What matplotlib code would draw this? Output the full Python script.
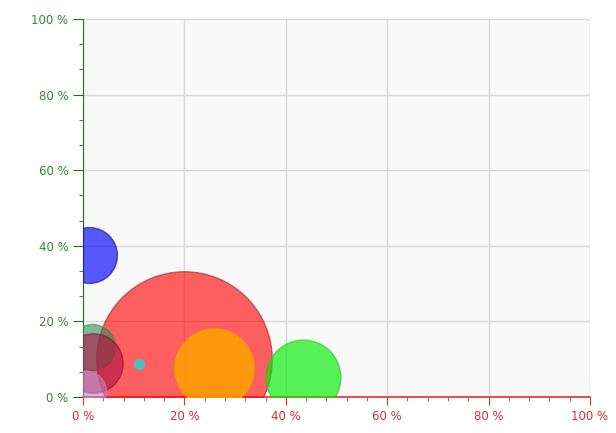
import matplotlib.pyplot as plt
from matplotlib.ticker import MultipleLocator, FuncFormatter

# bubble data (x %, y %, bubble value)
xs = [20.0, 25.8, 43.3, 1.2, 11.0, 1.8, 2.0, 0.5]
ys = [10.0, 7.8, 5.2, 37.6, 8.7, 13.2, 9.0, 1.5]
vals = [77.0, 15.6, 14.0, 7.8, 0.25, 5.3, 8.8, 4.0]
colors = ["#ff0000", "#ffa000", "#00ee00", "#0000ff", "#30d0d0",
          "#2e8b57", "#b01040", "#c080c0"]
edges = ["#b02020", "#ffa000", "#30c030", "#101090", "#30d0d0",
         "#2e8b57", "#801030", "#c080c0"]
alphas = [0.62, 0.85, 0.65, 0.65, 0.8, 0.6, 0.6, 0.6]

fig = plt.figure(figsize=(6.16, 4.33), dpi=100)
ax = fig.add_axes([0.1347, 0.0831, 0.8231, 0.8729])
ax.set_facecolor("#f9f9f9")

for x, y, v, c, e, a in zip(xs, ys, vals, colors, edges, alphas):
    # value ~ (radius px)^2 / 100
    s = (2 * 0.72) ** 2 * v * 100
    ax.scatter([x], [y], s=s, color=c, alpha=a, edgecolors=e, linewidths=1.0, zorder=3)

ax.set_xlim(0, 100)
ax.set_ylim(0, 100)
ax.xaxis.set_major_locator(MultipleLocator(20))
ax.xaxis.set_minor_locator(MultipleLocator(4))
ax.yaxis.set_major_locator(MultipleLocator(20))
ax.yaxis.set_minor_locator(MultipleLocator(20 / 3))
fmt = FuncFormatter(lambda v, p: f"{int(round(v))} %")
ax.xaxis.set_major_formatter(fmt)
ax.yaxis.set_major_formatter(fmt)

ax.grid(True, which="major", color="#d9d9d9", linewidth=1.0, zorder=0)
ax.set_axisbelow(True)

for s in ["top", "right"]:
    ax.spines[s].set_visible(False)
ax.spines["left"].set_color("#1f6f1f")
ax.spines["bottom"].set_color("#e83030")
ax.spines["bottom"].set_linewidth(1.2)

ax.tick_params(axis="y", which="major", length=7, color="#1f6f1f", labelcolor="#2e8b2e", labelsize=8.5)
ax.tick_params(axis="y", which="minor", length=3, color="#1f6f1f")
ax.tick_params(axis="x", which="major", length=6, color="#e83030", labelcolor="#d03030", labelsize=8.5)
ax.tick_params(axis="x", which="minor", length=3, color="#e83030")

fig.savefig("out.png", dpi=100)
